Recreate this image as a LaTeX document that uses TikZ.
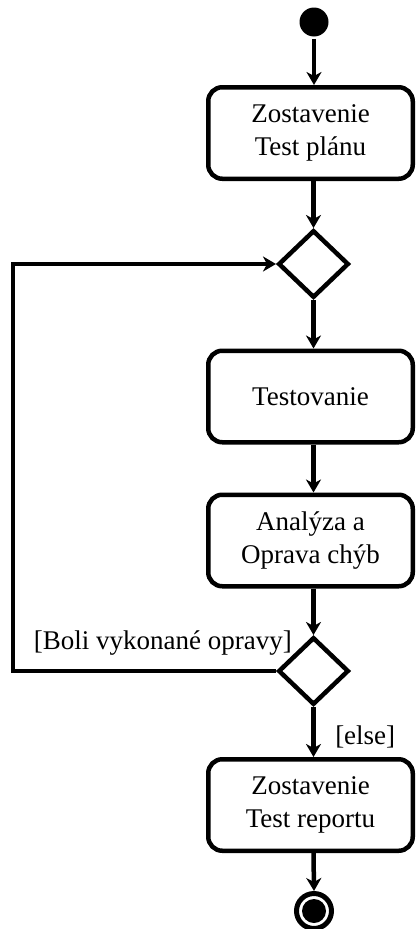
\documentclass[tikz,border=0pt]{standalone}
\usepackage{fontspec}
\setmainfont{Liberation Serif}
\usetikzlibrary{shapes.geometric,arrows.meta}
\begin{document}
\begin{tikzpicture}[x=1pt,y=-1pt,
  line width=4.5pt,
  every node/.style={font=\fontsize{27}{33}\selectfont},
  action/.style={draw,rounded corners=14pt,minimum width=204.5pt,minimum height=91.5pt,align=center,inner sep=0pt},
  decision/.style={draw,diamond,minimum width=70.5pt,minimum height=67.5pt,inner sep=0pt},
  flow/.style={-{Stealth[length=13pt,width=15pt,inset=4pt]}},
  guard/.style={inner sep=0pt}]
\useasboundingbox (0,0) rectangle (417,929);

% states and actions
\node[circle,fill=black,minimum size=29pt,inner sep=0pt] (start) at (314,22) {};
\node[action] (plan) at (310.5,133) {Zostavenie\\Test plánu};
\node[decision] (merge) at (313.5,264) {};
\node[action] (test) at (310.5,396.5) {Testovanie};
\node[action] (fix) at (310.5,540.5) {Analýza a\\Oprava chýb};
\node[decision] (check) at (313.5,671) {};
\node[action] (report) at (310.5,805) {Zostavenie\\Test reportu};
\node[circle,draw,line width=5pt,minimum size=35pt,inner sep=0pt] (end) at (314,911) {};
\node[circle,fill=black,minimum size=24pt,inner sep=0pt] at (end) {};

% control flow
\draw[flow] (start.south) -- (start.south |- plan.north);
\draw[flow] (merge.north |- plan.south) -- (merge.north);
\draw[flow] (merge.south) -- (merge.south |- test.north);
\draw[flow] (merge.south |- test.south) -- (merge.south |- fix.north);
\draw[flow] (check.north |- fix.south) -- (check.north);
\draw[flow] (check.south) -- (check.south |- report.north);
\draw[flow] (check.south |- report.south) -- (end.north);

% loop back to the merge node
\coordinate (lb) at (13,671);
\coordinate (lt) at (13,264);
\draw[flow,line join=miter] (check.west) -- (lb) -- (lt) -- (merge.west);

% guards
\node[guard,anchor=base east] at (294,649) {[Boli vykonané opravy]};
\node[guard,anchor=base west] at (333,744) {[else]};
\end{tikzpicture}
\end{document}
